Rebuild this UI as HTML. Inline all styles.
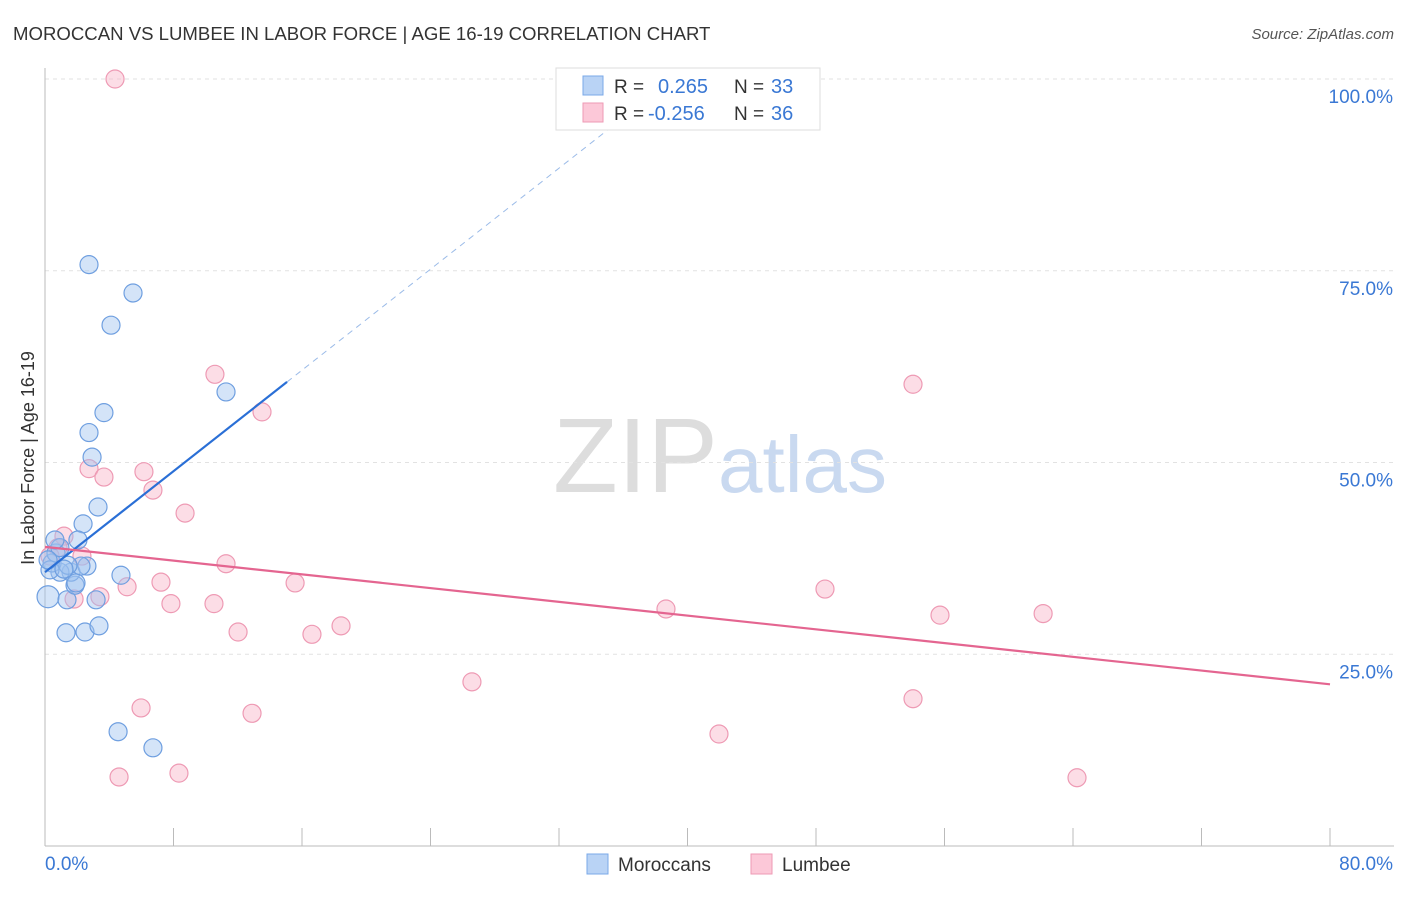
<!DOCTYPE html>
<html><head><meta charset="utf-8"><style>
body{margin:0;background:#fff;font-family:"Liberation Sans",sans-serif}
svg text{font-family:"Liberation Sans",sans-serif}
</style></head><body>
<svg id="c" width="1406" height="892" xmlns="http://www.w3.org/2000/svg">
<text x="13" y="40" font-size="18.6" fill="#333">MOROCCAN VS LUMBEE IN LABOR FORCE | AGE 16-19 CORRELATION CHART</text>
<text x="1394" y="39" font-size="15" fill="#555" font-style="italic" text-anchor="end">Source: ZipAtlas.com</text>
<text x="553" y="492" font-size="106" fill="#ddd" font-family="Liberation Serif">ZIP</text>
<text x="718" y="492" font-size="80" fill="#c9d9f0">atlas</text>
<g id="grid"></g>
<g id="axes"></g>
<g id="pts"></g>
<g id="trend"></g>
<text transform="translate(34,458) rotate(-90)" font-size="18" fill="#333" text-anchor="middle">In Labor Force | Age 16-19</text>
<g>
<rect x="556" y="68" width="264" height="62" fill="#fff" stroke="#ddd"/>
<rect x="583" y="76" width="20" height="19" fill="#b9d3f5" stroke="#7aa8e8"/>
<rect x="583" y="103" width="20" height="19" fill="#fcc8d8" stroke="#ee9ab4"/>
<text x="614" y="93" font-size="19" fill="#333">R = </text><text x="658" y="93" font-size="20" fill="#3a78d4">0.265</text>
<text x="734" y="93" font-size="19" fill="#333">N = </text><text x="771" y="93" font-size="20" fill="#3a78d4">33</text>
<text x="614" y="120" font-size="19" fill="#333">R = </text><text x="648" y="120" font-size="20" fill="#3a78d4">-0.256</text>
<text x="734" y="120" font-size="19" fill="#333">N = </text><text x="771" y="120" font-size="20" fill="#3a78d4">36</text>
</g>
<g>
<rect x="587" y="854" width="21" height="20" fill="#b9d3f5" stroke="#7aa8e8"/>
<text x="618" y="871" font-size="19" fill="#333">Moroccans</text>
<rect x="751" y="854" width="21" height="20" fill="#fcc8d8" stroke="#ee9ab4"/>
<text x="782" y="871" font-size="19" fill="#333">Lumbee</text>
</g>
</svg>
<script>
const blueX=[2.74,5.48,4.11,11.27,3.67,2.74,2.93,3.30,2.37,2.05,0.19,1.37,3.18,1.31,2.49,3.36,4.73,1.87,1.62,0.93,0.44,0.68,0.93,2.61,2.24,1.43,0.31,4.55,6.72,1.18,0.62,0.19,1.93];
const blueY=[75.8,72.1,67.9,59.2,56.5,53.9,50.7,44.2,42.0,39.9,32.5,32.1,32.1,27.8,27.9,28.7,35.3,34.0,35.7,35.7,36.9,38.2,38.9,36.5,36.5,36.6,36.0,14.9,12.8,36.1,39.9,37.3,34.3];
const pinkX=[4.36,10.58,13.51,54.04,6.16,2.74,3.67,6.72,8.72,1.18,2.30,11.27,7.22,5.11,15.57,3.42,1.81,7.84,10.52,38.66,48.56,55.72,62.14,12.02,16.62,18.43,26.58,5.98,12.89,54.04,41.96,4.61,8.34,64.25,0.81,0.31];
const pinkY=[100,61.5,56.6,60.2,48.8,49.2,48.1,46.4,43.4,40.4,37.8,36.8,34.4,33.8,34.3,32.5,32.2,31.6,31.6,30.9,33.5,30.1,30.3,27.9,27.6,28.7,21.4,18.0,17.3,19.2,14.6,9.0,9.5,8.9,38.9,37.8];
const yTicks=[25,50,75,100];
const yTickLabels=["25.0%","50.0%","75.0%","100.0%"];
const blueTrend=[35.7,1.646]; const pinkTrend=[39.0,-0.224];
const NS="http://www.w3.org/2000/svg";
const X=v=>45+v/80*1285, Y=v=>846-v/100*767;
function mk(t,a,p){const e=document.createElementNS(NS,t);for(const k in a)e.setAttribute(k,a[k]);p.appendChild(e);return e;}
const grid=document.getElementById('grid'),axes=document.getElementById('axes'),pts=document.getElementById('pts'),tr=document.getElementById('trend');
yTicks.forEach((v,i)=>{const l=mk('line',{x1:45,x2:1394,y1:Y(v),y2:Y(v),stroke:'#e2e2e2','stroke-dasharray':'4,4'},grid);


const t=mk('text',{x:1393,y:Y(v)+24,'font-size':19,fill:'#3a78d4','text-anchor':'end'},grid);t.textContent=yTickLabels[i];

});
const ya=mk('line',{x1:45,x2:45,y1:68,y2:846,stroke:'#bbb'},axes);


const xa=mk('line',{x1:45,x2:1394,y1:846,y2:846,stroke:'#bbb'},axes);


for(let i=1;i<=10;i++){const t=mk('line',{x1:X(i*8),x2:X(i*8),y1:828,y2:846,stroke:'#bbb'},axes);

}
const x0=mk('text',{x:45,y:870,'font-size':19,fill:'#3a78d4'},axes);x0.textContent='0.0%';


const x1=mk('text',{x:1393,y:870,'font-size':19,fill:'#3a78d4','text-anchor':'end'},axes);x1.textContent='80.0%';


pinkX.forEach((x,i)=>{const c=mk('circle',{cx:X(x),cy:Y(pinkY[i]),r:9,fill:'rgba(248,180,200,0.45)',stroke:'#ee9ab4','stroke-width':1.2},pts);

});
blueX.forEach((x,i)=>{const c=mk('circle',{cx:X(x),cy:Y(blueY[i]),r:i==10?11:9,fill:'rgba(160,195,240,0.45)',stroke:'#6f9fe0','stroke-width':1.2},pts);

});
const bs=mk('line',{x1:X(0),y1:Y(blueTrend[0]),x2:X(15.07),y2:Y(blueTrend[0]+blueTrend[1]*15.07),stroke:'#2a6fd6','stroke-width':2.2},tr);


const xe=(100-blueTrend[0])/blueTrend[1];
const bd=mk('line',{x1:X(15.07),y1:Y(blueTrend[0]+blueTrend[1]*15.07),x2:X(xe),y2:Y(100),stroke:'#9bbbe8','stroke-width':1,'stroke-dasharray':'6,5'},tr);


const pl=mk('line',{x1:X(0),y1:Y(pinkTrend[0]),x2:X(80),y2:Y(pinkTrend[0]+pinkTrend[1]*80),stroke:'#e46590','stroke-width':2.2},tr);


</script>
</body></html>
